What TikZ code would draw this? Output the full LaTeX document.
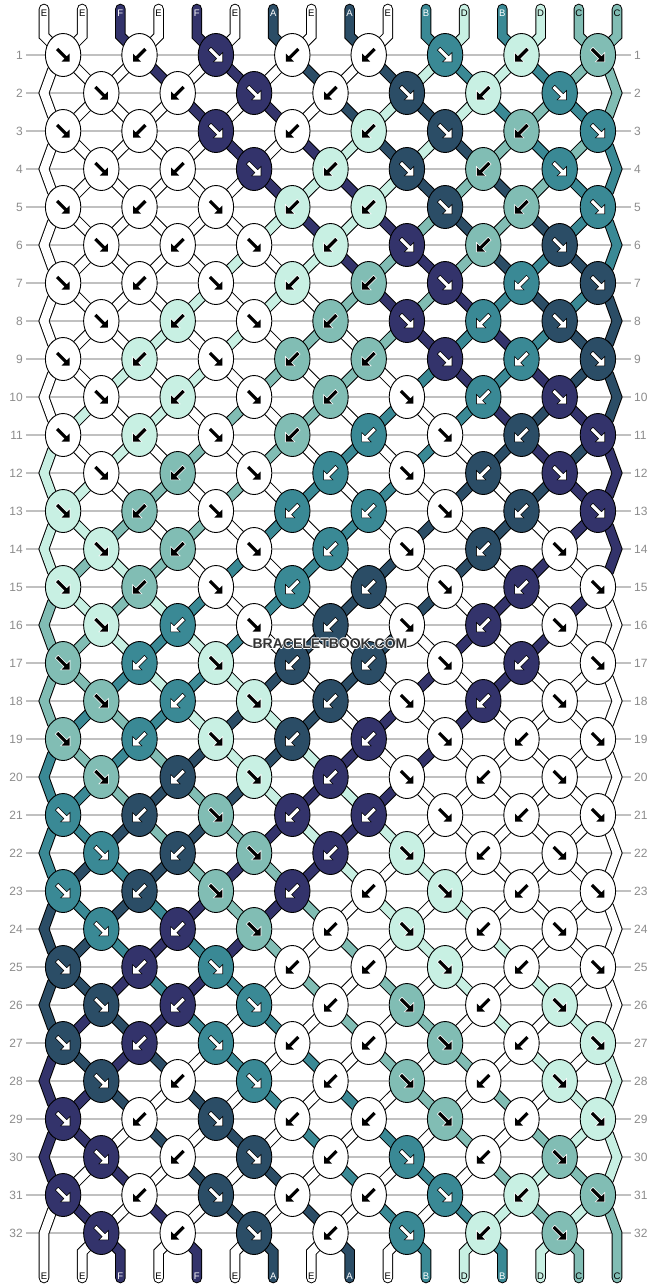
\documentclass[tikz,border=0pt]{standalone}
\usepackage{fontspec}
\setmainfont{Liberation Sans}
\usetikzlibrary{shapes.geometric}
\definecolor{cA}{RGB}{43,77,102}
\definecolor{cB}{RGB}{58,137,149}
\definecolor{cC}{RGB}{129,189,180}
\definecolor{cD}{RGB}{200,240,227}
\definecolor{cE}{RGB}{255,255,255}
\definecolor{cF}{RGB}{51,51,107}
\definecolor{rowgray}{RGB}{192,192,192}
\definecolor{numgray}{RGB}{140,140,140}
\definecolor{wmgray}{RGB}{50,50,50}
\def\afA{white}\def\adA{black}\def\tcA{white}
\def\afB{white}\def\adB{black}\def\tcB{white}
\def\afF{white}\def\adF{black}\def\tcF{white}
\def\afC{black}\def\adC{white}\def\tcC{black}
\def\afD{black}\def\adD{white}\def\tcD{black}
\def\afE{black}\def\adE{white}\def\tcE{black}
\def\fwdpoly{(-4.87,-7.13) -- (3.63,1.37) -- (6.5,-1.5) -- (6.5,6.5) -- (-1.5,6.5) -- (1.37,3.63) -- (-7.13,-4.87) -- cycle}
\def\bwdpoly{(4.87,-7.13) -- (-3.63,1.37) -- (-6.5,-1.5) -- (-6.5,6.5) -- (1.5,6.5) -- (-1.37,3.63) -- (7.13,-4.87) -- cycle}
\newcommand\wmhalo[1]{%
  \makebox[0pt]{\color{white}\raisebox{0.9pt}{#1}}%
  \makebox[0pt]{\color{white}\raisebox{-0.9pt}{#1}}%
  \makebox[0pt]{\color{white}\hspace*{1.8pt}#1}%
  \makebox[0pt]{\color{white}\hspace*{-1.8pt}#1}%
  \makebox[0pt]{\color{wmgray}#1}}
\begin{document}
\begin{tikzpicture}[x=1pt,y=-1pt,
  knot/.style={ellipse, draw=black, line width=0.9pt, minimum width=35.4pt, minimum height=43pt, inner sep=0pt},
  bandout/.style={draw=black, line width=10.6pt, line cap=round, line join=miter},
  bandin/.style={line width=8.6pt, line cap=round, line join=miter},
  rowline/.style={draw=rowgray, line width=1.1pt},
  rownum/.style={font=\fontsize{12}{12}\selectfont, text=numgray, inner sep=0pt},
  strlabel/.style={font=\fontsize{9.5}{9.5}\selectfont, inner sep=0pt},
  arrline/.style={line width=1.4pt, line join=miter},
]
\useasboundingbox (0,0) rectangle (658,1288);
\fill[white] (0,0) rectangle (658,1288);
% ---------- initial strands ----------
\foreach \c [count=\i] in {E,E,F,E,F,E,A,E,A,E,B,D,B,D,C,C}{%
  \pgfmathsetmacro\xs{44+38.2*(\i-1)}%
  \expandafter\xdef\csname sc\i\endcsname{\c}%
  \expandafter\xdef\csname at0-\i\endcsname{\i}%
  \expandafter\xdef\csname path\i\endcsname{(\xs,9) -- (\xs,36)}%
}
% ---------- simulate the rows ----------
\foreach \r in {1,...,32}{%
  \pgfmathtruncatemacro\pr{\r-1}%
  \pgfmathtruncatemacro\isodd{mod(\r,2)}%
  \pgfmathsetmacro\yy{55+38*(\r-1)}%
  \ifnum\isodd=1 \def\nkn{8}\def\offs{1}\else\def\nkn{7}\def\offs{2}\fi
  \foreach \k in {1,...,\nkn}{%
    \pgfmathtruncatemacro\lsl{2*\k-2+\offs}%
    \pgfmathtruncatemacro\rsl{\lsl+1}%
    \edef\lid{\csname at\pr-\lsl\endcsname}%
    \edef\rid{\csname at\pr-\rsl\endcsname}%
    \expandafter\xdef\csname at\r-\lsl\endcsname{\rid}%
    \expandafter\xdef\csname at\r-\rsl\endcsname{\lid}%
    \pgfmathsetmacro\xx{63.1+38.2*(\lsl-1)}%
    \coordinate (P-\r-\k) at (\xx,\yy);
    \expandafter\xdef\csname path\lid\endcsname{\csname path\lid\endcsname\space -- (P-\r-\k)}%
    \expandafter\xdef\csname path\rid\endcsname{\csname path\rid\endcsname\space -- (P-\r-\k)}%
    \def\dir{F}%
    \ifnum\isodd=1
      \ifcase\k\or\or\def\dir{B}\or\or\def\dir{B}\or\def\dir{B}\or\or\def\dir{B}\or\fi
    \else
      \ifodd\k\else\def\dir{B}\fi
    \fi
    \if F\dir
      \expandafter\xdef\csname kc\r-\k\endcsname{\csname sc\lid\endcsname}%
    \else
      \expandafter\xdef\csname kc\r-\k\endcsname{\csname sc\rid\endcsname}%
    \fi
    \expandafter\xdef\csname kd\r-\k\endcsname{\dir}%
  }%
  \ifnum\isodd=0
    \edef\eid{\csname at\pr-1\endcsname}%
    \edef\fid{\csname at\pr-16\endcsname}%
    \expandafter\xdef\csname at\r-1\endcsname{\eid}%
    \expandafter\xdef\csname at\r-16\endcsname{\fid}%
    \pgfmathsetmacro\ya{\yy-22}%
    \pgfmathsetmacro\yb{\yy+22}%
    \ifnum\r=32
      \def\ltail{ -- (52,\ya) -- (44,\yy)}\def\rtail{ -- (609,\ya) -- (617,\yy)}%
    \else
      \def\ltail{ -- (52,\ya) -- (44,\yy) -- (52,\yb)}\def\rtail{ -- (609,\ya) -- (617,\yy) -- (609,\yb)}%
    \fi
    \expandafter\xdef\csname path\eid\endcsname{\csname path\eid\endcsname\ltail}%
    \expandafter\xdef\csname path\fid\endcsname{\csname path\fid\endcsname\rtail}%
  \fi
}
% ---------- strand ends ----------
\foreach \p in {1,...,16}{%
  \edef\fid{\csname at32-\p\endcsname}%
  \pgfmathsetmacro\xs{44+38.2*(\p-1)}%
  \ifnum\p=1 \def\btail{ -- (\xs,1278)}\else
    \ifnum\p=16 \def\btail{ -- (\xs,1278)}\else
      \def\btail{ -- (\xs,1252) -- (\xs,1278)}\fi\fi
  \expandafter\xdef\csname path\fid\endcsname{\csname path\fid\endcsname\btail}%
  \expandafter\xdef\csname bl\p\endcsname{\csname sc\fid\endcsname}%
}
% ---------- row lines and numbers ----------
\foreach \r in {1,...,32}{%
  \pgfmathsetmacro\yy{55+38*(\r-1)}%
  \node[rownum, anchor=east] (LN\r) at (23,\yy) {\r};
  \node[rownum, anchor=west] (RN\r) at (634,\yy) {\r};
  \draw[rowline] ([xshift=3pt]LN\r.east) -- ([xshift=-3pt]RN\r.west);
}
% ---------- strands ----------
\foreach \s in {1,...,16}{%
  \edef\cl{\csname sc\s\endcsname}%
  \edef\tmp{\noexpand\draw[bandout] \csname path\s\endcsname;
    \noexpand\draw[bandin, draw=c\cl] \csname path\s\endcsname;}%
  \tmp
}
% ---------- strand letters ----------
\foreach \c [count=\i] in {E,E,F,E,F,E,A,E,A,E,B,D,B,D,C,C}{%
  \pgfmathsetmacro\xs{44+38.2*(\i-1)}%
  \edef\tcol{\csname tc\c\endcsname}%
  \node[strlabel, text=\tcol] (TL\i) at (\xs,13) {\c};
  \edef\bc{\csname bl\i\endcsname}%
  \edef\bcol{\csname tc\bc\endcsname}%
  \node[strlabel, text=\bcol] (BL\i) at (\xs,1276) {\bc};
}
% ---------- knots ----------
\foreach \r in {1,...,32}{%
  \pgfmathtruncatemacro\isodd{mod(\r,2)}%
  \ifnum\isodd=1 \def\nkn{8}\else\def\nkn{7}\fi
  \foreach \k in {1,...,\nkn}{%
    \edef\kc{\csname kc\r-\k\endcsname}%
    \edef\kd{\csname kd\r-\k\endcsname}%
    \edef\af{\csname af\kc\endcsname}%
    \edef\ad{\csname ad\kc\endcsname}%
    \node[knot, fill=c\kc] (K-\r-\k) at (P-\r-\k) {};
    \if F\kd
      \draw[arrline, draw=\ad, shift={(P-\r-\k)}] \fwdpoly;
      \fill[fill=\af, shift={(P-\r-\k)}] \fwdpoly;
    \else
      \draw[arrline, draw=\ad, shift={(P-\r-\k)}] \bwdpoly;
      \fill[fill=\af, shift={(P-\r-\k)}] \bwdpoly;
    \fi
  }
}
% ---------- watermark ----------
\node[font=\bfseries\fontsize{14}{14}\selectfont, inner sep=0pt] (wm) at (330,644) {\wmhalo{BRACELETBOOK.COM}};
\end{tikzpicture}
\end{document}
